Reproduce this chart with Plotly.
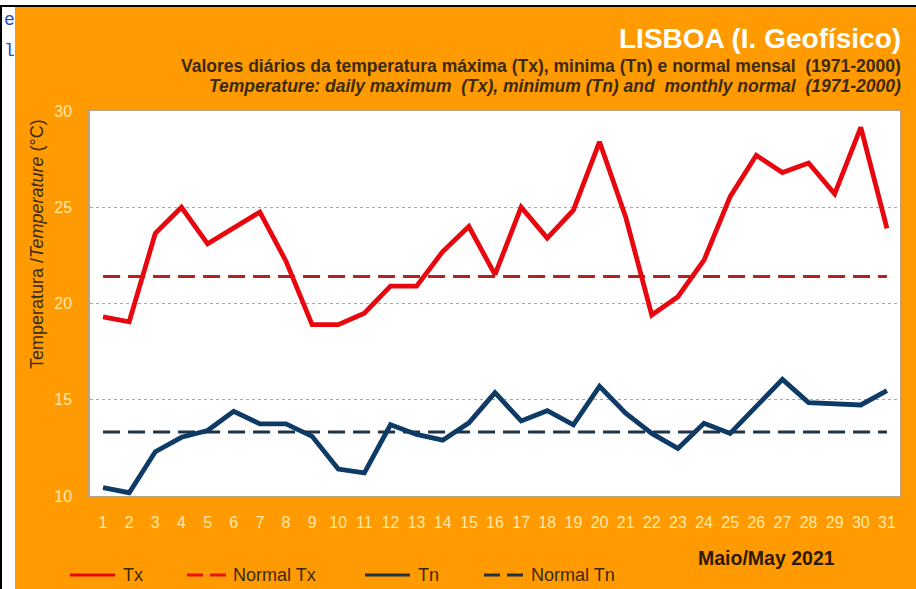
import plotly.graph_objects as go

days = list(range(1, 32))
tx = [19.3, 19.05, 23.65, 25.0, 23.1, 23.95, 24.75, 22.2, 18.9, 18.9, 19.5, 20.9, 20.9, 22.7, 24.0,
      21.5, 25.0, 23.4, 24.85, 28.4, 24.5, 19.4, 20.35, 22.25, 25.55, 27.7, 26.8, 27.3, 25.7, 29.15, 23.9]
tn = [10.43, 10.17, 12.3, 13.05, 13.4, 14.4, 13.75, 13.75, 13.1, 11.4, 11.2, 13.7, 13.2, 12.9, 13.8,
      15.37, 13.9, 14.43, 13.7, 15.7, 14.3, 13.25, 12.47, 13.78, 13.25, 14.7, 16.06, 14.85, 14.8, 14.73, 15.47]
normal_tx = 21.4
normal_tn = 13.32
y_ticks = [10, 15, 20, 25, 30]

W, H = 916, 589
L, R, T, B = 90, 16, 111, 93
PW, PH = W - L - R, H - T - B

def px(x):
    return (x - L) / PW

def py(y):
    return 1 - (y - T) / PH

ORANGE = "#FF9A00"
RED = "#E8070F"
DRED = "#B52020"
NAVY = "#0E3A66"
DNAVY = "#1C3348"
TXT = "#3B2A14"
CREAM = "#FFE9A8"
SANS = "Liberation Sans, Arial, sans-serif"

fig = go.Figure()
fig.add_trace(go.Scatter(x=days, y=[normal_tx] * len(days), mode="lines",
                         line=dict(color=DRED, width=3, dash="17px,8px"), name="Normal Tx", showlegend=False))
fig.add_trace(go.Scatter(x=days, y=[normal_tn] * len(days), mode="lines",
                         line=dict(color=DNAVY, width=3, dash="17px,8px"), name="Normal Tn", showlegend=False))
fig.add_trace(go.Scatter(x=days, y=tx, mode="lines", line=dict(color=RED, width=4.8),
                         name="Tx", showlegend=False))
fig.add_trace(go.Scatter(x=days, y=tn, mode="lines", line=dict(color=NAVY, width=4.8),
                         name="Tn", showlegend=False))

shapes = [
    dict(type="rect", xref="paper", yref="paper", x0=px(0), x1=px(15), y0=py(H), y1=py(0),
         fillcolor="white", line_width=0, layer="below"),
    dict(type="rect", xref="paper", yref="paper", x0=px(0), x1=px(W), y0=py(5), y1=py(0),
         fillcolor="white", line_width=0, layer="below"),
    dict(type="rect", xref="paper", yref="paper", x0=px(0), x1=px(W), y0=py(7), y1=py(5),
         fillcolor="black", line_width=0, layer="below"),
    dict(type="rect", xref="paper", yref="paper", x0=px(0), x1=px(2), y0=py(H), y1=py(5),
         fillcolor="black", line_width=0, layer="below"),
]

# manual legend
leg_y = 575
legend_items = [
    (70, 115, RED, "solid", "Tx", 121),
    (187, 226, "#E8141A", "16px,7px", "Normal Tx", 231),
    (365, 410, DNAVY, "solid", "Tn", 416),
    (484, 524, DNAVY, "16px,7px", "Normal Tn", 529),
]
annotations = []
for x0, x1, col, dash, label, tx0 in legend_items:
    shapes.append(dict(type="line", xref="paper", yref="paper", x0=px(x0), x1=px(x1),
                       y0=py(leg_y), y1=py(leg_y), line=dict(color=col, width=3, dash=dash)))
    annotations.append(dict(x=px(tx0), y=py(leg_y), xref="paper", yref="paper", text=label,
                            showarrow=False, xanchor="left", yanchor="middle",
                            font=dict(family=SANS, size=18, color=TXT)))

annotations += [
    dict(x=px(903), y=py(38), xref="paper", yref="paper", text="<b>LISBOA (I. Geofísico)</b>",
         showarrow=False, xanchor="right", yanchor="middle",
         font=dict(family=SANS, size=28, color="white")),
    dict(x=px(903), y=py(66), xref="paper", yref="paper",
         text="<b>Valores diários da temperatura máxima (Tx), minima (Tn) e normal mensal  (1971-2000)</b>",
         showarrow=False, xanchor="right", yanchor="middle",
         font=dict(family=SANS, size=17.5, color=TXT)),
    dict(x=px(903), y=py(86), xref="paper", yref="paper",
         text="<b><i>Temperature: daily maximum  (Tx), minimum (Tn) and  monthly normal  (1971-2000)</i></b>",
         showarrow=False, xanchor="right", yanchor="middle",
         font=dict(family=SANS, size=17.5, color=TXT)),
    dict(x=px(37), y=py(244), xref="paper", yref="paper",
         text="Temperatura /<i>Temperature</i> (°C)", textangle=-90,
         showarrow=False, xanchor="center", yanchor="middle",
         font=dict(family=SANS, size=18, color=TXT)),
    dict(x=px(766), y=py(558), xref="paper", yref="paper", text="<b>Maio/May 2021</b>",
         showarrow=False, xanchor="center", yanchor="middle",
         font=dict(family=SANS, size=19.5, color="#2A1A05")),
    dict(x=px(2), y=py(20), xref="paper", yref="paper", text="e",
         showarrow=False, xanchor="left", yanchor="middle",
         font=dict(family="Liberation Mono, monospace", size=18, color="#2050C0")),
    dict(x=px(2), y=py(51), xref="paper", yref="paper", text="l",
         showarrow=False, xanchor="left", yanchor="middle",
         font=dict(family="Liberation Mono, monospace", size=18, color="#2050C0")),
]

fig.update_layout(
    width=W, height=H,
    margin=dict(l=L, r=R, t=T, b=B, pad=0),
    paper_bgcolor=ORANGE, plot_bgcolor="white",
    showlegend=False,
    shapes=shapes, annotations=annotations,
    xaxis=dict(range=[0.5, 31.5], tickvals=days, ticktext=[str(d) for d in days],
               showgrid=False, zeroline=False, showline=True, mirror=True,
               linecolor="#B9A27E", linewidth=1.5, ticks="",
               ticklabelstandoff=11,
               tickfont=dict(family=SANS, size=16, color=CREAM)),
    yaxis=dict(range=[10, 30], tickvals=y_ticks, ticktext=[str(v) for v in y_ticks],
               showgrid=True, gridcolor="#A8A8A8", griddash="dot", gridwidth=1,
               zeroline=False, showline=True, mirror=True,
               linecolor="#B9A27E", linewidth=1.5, ticks="",
               ticklabelstandoff=13,
               tickfont=dict(family=SANS, size=16, color=CREAM)),
)

fig.write_html("out.html", config={"displayModeBar": False},
               post_script="document.body.style.margin='0px';document.body.style.overflow='hidden';")
